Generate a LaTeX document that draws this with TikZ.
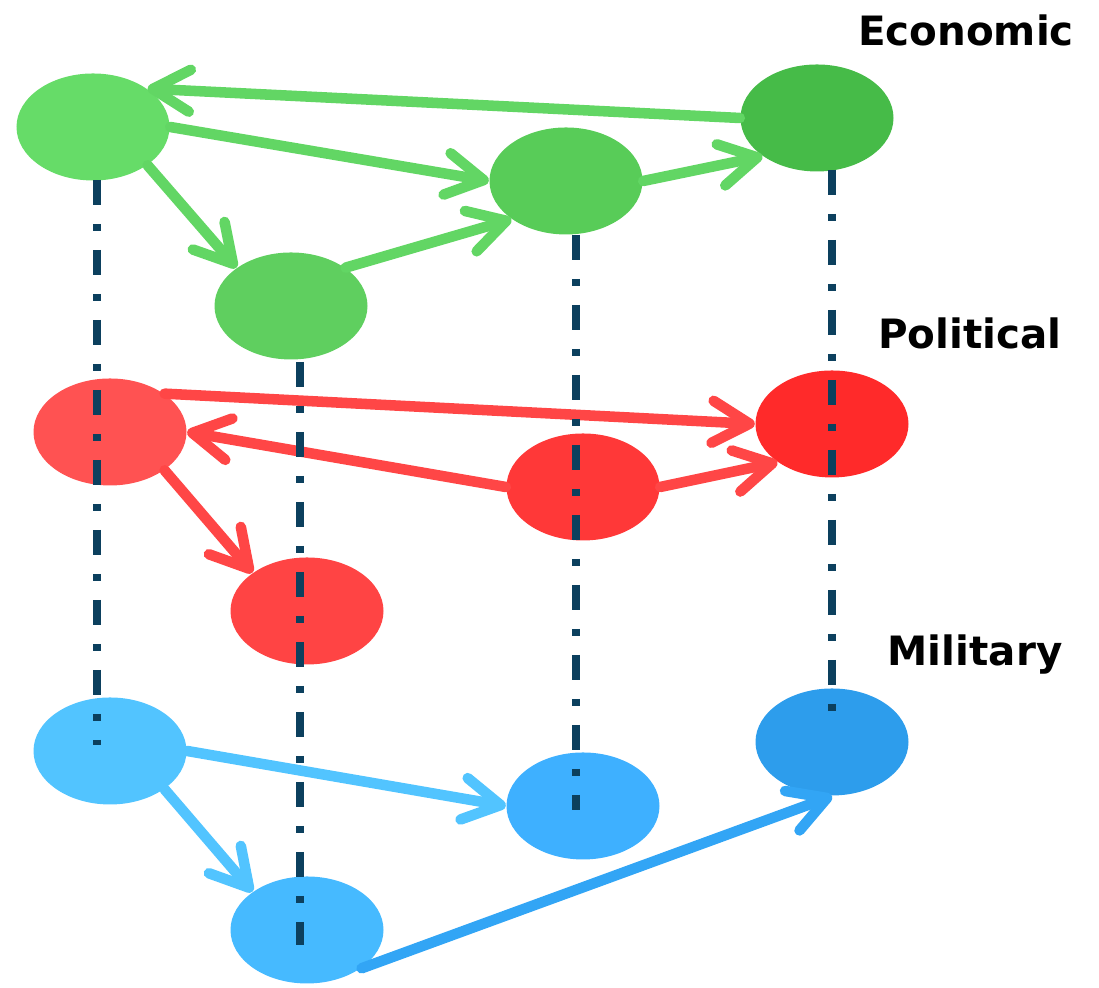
\documentclass[tikz,border=0pt]{standalone}
\usepackage{fontspec}
\setmainfont{DejaVu Sans}
\usetikzlibrary{shapes.geometric,arrows.meta}

\definecolor{ecoA}{RGB}{102,220,104}
\definecolor{ecoB}{RGB}{88,204,88}
\definecolor{ecoC}{RGB}{70,187,72}
\definecolor{ecoD}{RGB}{95,207,95}
\definecolor{ecoLink}{RGB}{98,214,100}
\definecolor{polA}{RGB}{255,82,82}
\definecolor{polB}{RGB}{255,56,56}
\definecolor{polC}{RGB}{255,42,42}
\definecolor{polD}{RGB}{255,68,68}
\definecolor{polLink}{RGB}{255,70,70}
\definecolor{milA}{RGB}{82,196,255}
\definecolor{milB}{RGB}{62,176,255}
\definecolor{milC}{RGB}{45,157,236}
\definecolor{milD}{RGB}{70,186,255}
\definecolor{milLink}{RGB}{82,196,255}
\definecolor{milLinkB}{RGB}{50,165,245}
\definecolor{layerTeal}{RGB}{12,64,94}

\begin{document}
\begin{tikzpicture}[
    actor/.style={ellipse, minimum width=1.53cm, minimum height=1.07cm, inner sep=0pt},
    link/.style={line width=3pt, line cap=round, -{Straight Barb[length=3.7mm, width=4.2mm, round]}},
    layerline/.style={line width=2pt, layerTeal, dash pattern=on 0.25cm off 0.19cm on 0.07cm off 0.19cm},
    layername/.style={font=\fontsize{11.5}{14}\selectfont\bfseries, inner sep=0pt}
  ]
    \useasboundingbox (0,0) rectangle (10.99,9.88);

    \node[actor, fill=ecoA] (E1) at (0.93,8.61) {};
    \node[actor, fill=ecoB] (E2) at (5.66,8.07) {};
    \node[actor, fill=ecoC] (E3) at (8.17,8.70) {};
    \node[actor, fill=ecoD] (E4) at (2.91,6.82) {};

    \node[actor, fill=polA] (P1) at (1.10,5.56) {};
    \node[actor, fill=polB] (P2) at (5.83,5.01) {};
    \node[actor, fill=polC] (P3) at (8.32,5.64) {};
    \node[actor, fill=polD] (P4) at (3.07,3.77) {};

    \node[actor, fill=milA] (M1) at (1.10,2.37) {};
    \node[actor, fill=milB] (M2) at (5.83,1.82) {};
    \node[actor, fill=milC] (M3) at (8.32,2.46) {};
    \node[actor, fill=milD] (M4) at (3.07,0.58) {};

    \node[layername] (eco) at (9.66,9.58) {Economic};
    \node[layername] (pol) at (9.70,6.55) {Political};
    \node[layername] (mil) at (9.75,3.33) {Military};

    \draw [link, ecoLink] (E3.west) -- (E1.north east);
    \draw [link, ecoLink] (E1.east) -- (E2.west);
    \draw [link, ecoLink] (E1.south east) -- (E4.north west);
    \draw [link, ecoLink] (E4.north east) -- (E2.south west);
    \draw [link, ecoLink] (E2.east) -- (E3.south west);

    \draw [link, polLink] (P1.north east) -- (P3.west);
    \draw [link, polLink] (P2.west) -- (P1.east);
    \draw [link, polLink] (P2.east) -- (P3.south west);
    \draw [link, polLink] (P1.south east) -- (P4.north west);

    \draw [link, milLink] (M1.east) -- (M2.west);
    \draw [link, milLink] (M1.south east) -- (M4.north west);
    \draw [link, milLinkB] (M4.south east) -- (M3.south);

    \coordinate (t1) at (0.97,8.08);
    \coordinate (b1) at (0.97,2.43);
    \coordinate (t2) at (3.00,6.26);
    \coordinate (b2) at (3.00,0.43);
    \coordinate (t3) at (5.76,7.53);
    \coordinate (b3) at (5.76,1.78);
    \coordinate (t4) at (8.32,8.18);
    \coordinate (b4) at (8.32,2.58);
     \foreach \i in {1,...,4}
       \draw[layerline] (t\i) -- (b\i);

  \end{tikzpicture}
\end{document}
